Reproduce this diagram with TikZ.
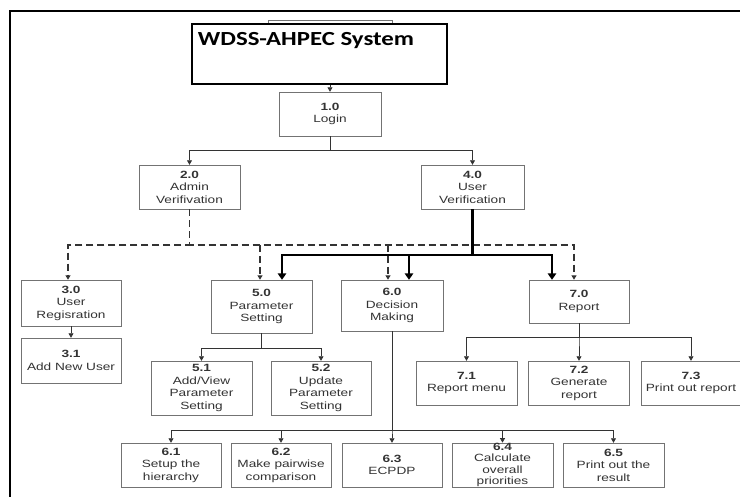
\documentclass[tikz,border=0pt]{standalone}
\usepackage{fontspec}
\setmainfont{Liberation Sans}[FakeStretch=1.3]
\newfontfamily\titlefont{Carlito}[FakeStretch=1.24]
\usetikzlibrary{arrows.meta}

\begin{document}
\begin{tikzpicture}[x=1pt, y=-1pt,
  every node/.style = {shape=rectangle, draw=black!55, fill=white,
    align=center, inner sep=0pt, text=black!80,
    font=\fontsize{10.5}{12.5}\selectfont},
  box/.style = {minimum width=101pt, minimum height=44pt},
  link/.style = {draw=black!80, line width=0.8pt,
    -{Triangle[length=4.5pt,width=5pt]}},
  dlink/.style = {link, line width=1.2pt, dash pattern=on 7pt off 4pt},
  tlink/.style = {draw=black, line width=2.6pt,
    -{Triangle[length=6.5pt,width=8.5pt]}}]
  \useasboundingbox (0,0) rectangle (740,497);
  \draw[line width=2pt] (10,497) -- (10,11) -- (740,11);

  \node[minimum width=124pt, minimum height=16pt] (back) at (330,28) {};
  \node[draw=black, line width=1.3pt, minimum width=255pt,
    minimum height=60pt] (sys) at (319.5,54) {};
  \node[draw=none, fill=none, anchor=base, text=black,
    font=\titlefont\bfseries\fontsize{20}{23}\selectfont]
    (title) at (306,46) {WDSS-AHPEC System};

  \node[box, minimum width=102pt] (n10) at (330,114) {\textbf{1.0}\\Login};
  \node[box] (n20) at (189.5,187) {\textbf{2.0}\\Admin\\Verifivation};
  \node[box, minimum width=103pt] (n40) at (472.5,187) {\textbf{4.0}\\User\\Verification};

  \node[box, minimum width=100pt, minimum height=46pt] (n30) at (71,303)
    {\textbf{3.0}\\User\\Regisration};
  \node[box, minimum width=100pt, minimum height=45pt] (n31) at (71,360.5)
    {\textbf{3.1}\\Add New User};
  \node[box, minimum height=53pt] (n50) at (261.5,306.5)
    {\textbf{5.0}\\Parameter\\Setting};
  \node[box, minimum width=102pt, minimum height=51pt] (n60) at (392,305.5)
    {\textbf{6.0}\\Decision\\Making};
  \node[box, minimum width=100pt, minimum height=43pt] (n70) at (579,301.5)
    {\textbf{7.0}\\Report};

  \node[box, minimum height=54pt] (n51) at (201.5,388)
    {\textbf{5.1}\\Add/View\\Parameter\\Setting};
  \node[box, minimum width=100pt, minimum height=54pt] (n52) at (321,388)
    {\textbf{5.2}\\Update\\Parameter\\Setting};

  \node[box] (n71) at (466.5,383) {\textbf{7.1}\\Report menu};
  \node[box] (n72) at (579,383) {\textbf{7.2}\\Generate\\report};
  \node[box, minimum width=100pt] (n73) at (691,383) {\textbf{7.3}\\Print out report};

  \node[box, minimum width=100pt] (n61) at (171,465) {\textbf{6.1}\\Setup the\\hierarchy};
  \node[box, minimum width=100pt] (n62) at (281,465) {\textbf{6.2}\\Make pairwise\\comparison};
  \node[box, minimum width=100pt] (n63) at (392,465) {\textbf{6.3}\\ECPDP};
  \node[box, font=\fontsize{10.5}{11.6}\selectfont] (n64) at (502.5,465)
    {\textbf{6.4}\\Calculate\\overall\\priorities};
  \node[box] (n65) at (613.5,465) {\textbf{6.5}\\Print out the\\result};

  \coordinate (d30) at (68,245);
  \coordinate (d50) at (260,245);
  \coordinate (d60) at (388,245);
  \coordinate (d70) at (574,245);
  \coordinate (t50) at (282,255);
  \coordinate (t60) at (409,255);
  \coordinate (t70) at (552,255);

  \draw[link] (sys.south -| n10.north) -- (n10.north);
  \draw[link] (n10.south) -- +(0,14) -| (n20.north);
  \draw[link] (n10.south) -- +(0,14) -| (n40.north);

  \draw[dlink] (n20.south) |- (d30) -- (d30 |- n30.north);
  \draw[dlink] (n20.south) |- (d70) -- (d70 |- n70.north);
  \draw[dlink] (d50) -- (d50 |- n50.north);
  \draw[dlink] (d60) -- (d60 |- n60.north);

  \draw[tlink] (n40.south) |- (t50) -- (t50 |- n50.north);
  \draw[tlink] (n40.south) |- (t70) -- (t70 |- n70.north);
  \draw[tlink] (t60) -- (t60 |- n60.north);

  \draw[link] (n30) -- (n31);
  \draw[link] (n50.south) -- +(0,15) -| (n51.north);
  \draw[link] (n50.south) -- +(0,15) -| (n52.north);
  \foreach \c in {n61,n62,n63,n64,n65}
    \draw[link] (n60.south) -- +(0,99) -| (\c.north);
  \foreach \c in {n71,n72,n73}
    \draw[link] (n70.south) -- +(0,14) -| (\c.north);
\end{tikzpicture}
\end{document}
